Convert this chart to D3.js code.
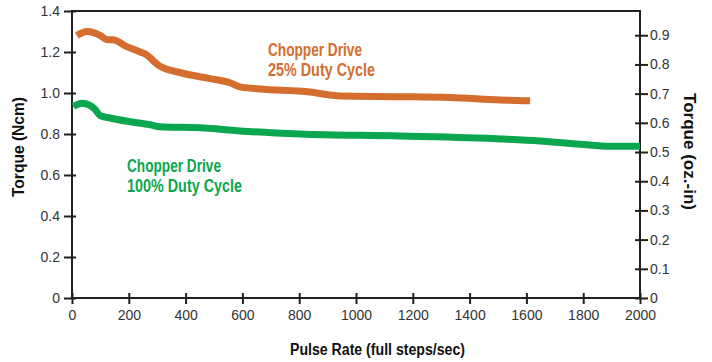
<!DOCTYPE html>
<html>
<head>
<meta charset="utf-8">
<script src="https://cdn.jsdelivr.net/npm/d3@7"></script>
<style>
body { margin: 0; background: #fff; }
.narrow { font-family: "Liberation Sans", Arial, sans-serif; font-weight: bold; }
.tick text { font-family: "Liberation Sans", Arial, sans-serif; font-size: 14px; fill: #333; }
</style>
</head>
<body>
<div id="viz"></div>
<script>
var width = 712
var height = 362

// pulse rate (full steps/sec) vs torque (Ncm)
var rate25 = [17, 53, 100, 123, 145, 187, 240, 264, 292, 310, 380, 486, 556, 592, 662, 838, 908, 944, 1150, 1331, 1507, 1613];
var torque25 = [1.28, 1.30, 1.28, 1.26, 1.26, 1.23, 1.20, 1.185, 1.15, 1.13, 1.10, 1.07, 1.05, 1.03, 1.02, 1.005, 0.99, 0.985, 0.982, 0.978, 0.966, 0.962];

var rate100 = [5, 35, 63, 81, 99, 134, 204, 275, 310, 450, 592, 803, 1155, 1507, 1648, 1789, 1894, 2000];
var torque100 = [0.934, 0.95, 0.94, 0.92, 0.89, 0.878, 0.86, 0.845, 0.835, 0.83, 0.815, 0.80, 0.79, 0.776, 0.766, 0.75, 0.74, 0.74];

var xTicks = [0, 200, 400, 600, 800, 1000, 1200, 1400, 1600, 1800, 2000];
var ncmTicks = [0, 0.2, 0.4, 0.6, 0.8, 1.0, 1.2, 1.4];
var ozTicks = [0, 0.1, 0.2, 0.3, 0.4, 0.5, 0.6, 0.7, 0.8, 0.9];

var orange = "#d46d2e";
var green = "#0aa650";

var svg = d3.select("#viz")
	.append("svg")
	.attr("width", width)
	.attr("height", height);

var xScale = d3.scaleLinear()
	.domain([0, 2000])
	.range([72, 640]);

var yScale = d3.scaleLinear()
	.domain([0, 1.4])
	.range([298, 11]);

var ozScale = d3.scaleLinear()
	.domain([0, 0.983])
	.range([298, 11]);

// frame
svg.append("rect")
	.attr("x", 72)
	.attr("y", 11)
	.attr("width", 568)
	.attr("height", 287)
	.attr("fill", "none")
	.attr("stroke", "#231f20")
	.attr("stroke-width", 2);

var xAxis = d3.axisBottom(xScale)
	.tickValues(xTicks)
	.tickSize(6)
	.tickSizeOuter(0)
	.tickFormat(d3.format("d"));

var yAxis = d3.axisLeft(yScale)
	.tickValues(ncmTicks)
	.tickSize(8)
	.tickSizeOuter(0)
	.tickFormat(function(d){ return d === 0 ? "0" : d3.format(".1f")(d); });

var ozAxis = d3.axisRight(ozScale)
	.tickValues(ozTicks)
	.tickSize(8)
	.tickSizeOuter(0)
	.tickFormat(function(d){ return d === 0 ? "0" : d3.format(".1f")(d); });

function styleAxis(g) {
	g.select(".domain").remove();
	g.selectAll(".tick line").attr("stroke", "#231f20").attr("stroke-width", 2);
}

var gx = svg.append("g")
	.attr("transform", "translate(0,298)")
	.call(xAxis)
	.call(styleAxis);
gx.selectAll(".tick line").attr("y1", -5);
gx.selectAll(".tick text").attr("y", 12);

var gy = svg.append("g")
	.attr("transform", "translate(72,0)")
	.call(yAxis)
	.call(styleAxis);
gy.selectAll(".tick line").attr("x1", 4);
gy.selectAll(".tick text").attr("x", -12);

var gr = svg.append("g")
	.attr("transform", "translate(640,0)")
	.call(ozAxis)
	.call(styleAxis);
gr.selectAll(".tick line").attr("x1", -5);
gr.selectAll(".tick text").attr("x", 10);

var line = d3.line()
	.x(function(d){ return xScale(d[0]); })
	.y(function(d){ return yScale(d[1]); })
	.curve(d3.curveMonotoneX);

svg.append("path")
	.datum(d3.zip(rate25, torque25))
	.attr("d", line)
	.attr("fill", "none")
	.attr("stroke", orange)
	.attr("stroke-width", 7);

svg.append("path")
	.datum(d3.zip(rate100, torque100))
	.attr("d", line)
	.attr("fill", "none")
	.attr("stroke", green)
	.attr("stroke-width", 7);

// condensed look: squeeze each label to the width it has in the original
function label(x, y, size, color, str, len) {
	return svg.append("text")
		.attr("class", "narrow")
		.attr("font-size", size)
		.attr("fill", color)
		.attr("x", x)
		.attr("y", y)
		.attr("textLength", len)
		.attr("lengthAdjust", "spacingAndGlyphs")
		.text(str);
}

label(268, 56, 18, orange, "Chopper Drive", 94);
label(268, 76, 18, orange, "25% Duty Cycle", 107);
label(127, 172, 18, green, "Chopper Drive", 94);
label(127, 192, 18, green, "100% Duty Cycle", 115);

// axis titles
label(290, 355, 16, "#111", "Pulse Rate (full steps/sec)", 175);

label(0, 0, 16, "#111", "Torque (Ncm)", 100)
	.attr("transform", "translate(24,197) rotate(-90)");

label(0, 0, 16, "#111", "Torque (oz.-in)", 117)
	.attr("transform", "translate(684,93) rotate(90)");
</script>
</body>
</html>
